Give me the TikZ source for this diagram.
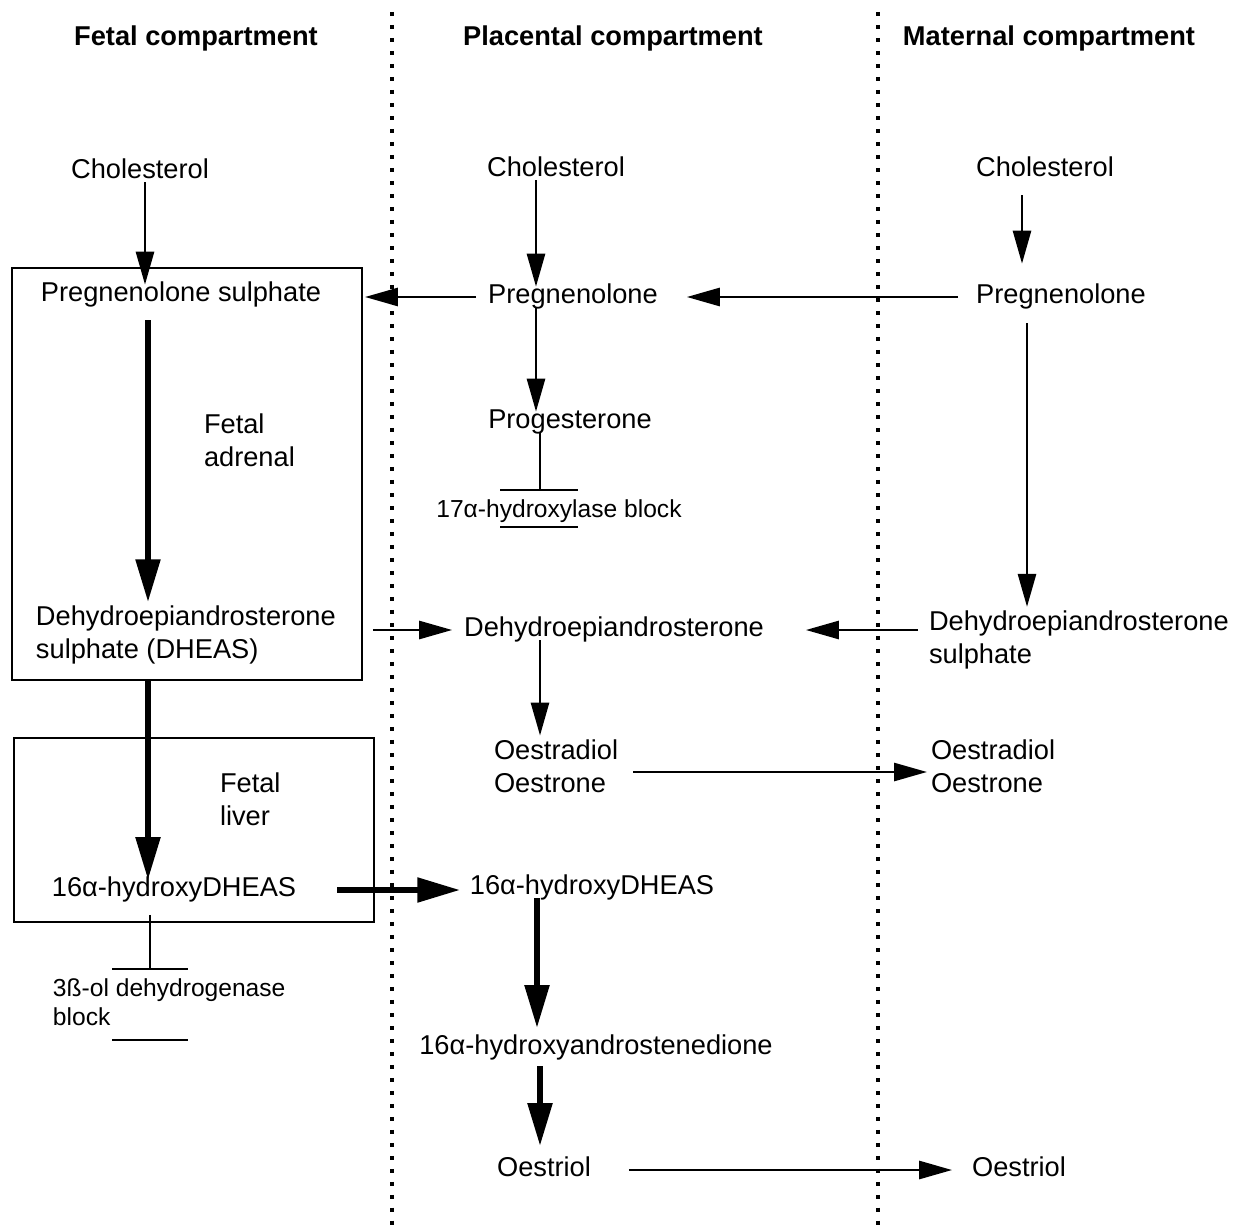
\documentclass[tikz,border=0pt]{standalone}
\usepackage{fontspec}
\setmainfont{Liberation Sans}
\usetikzlibrary{arrows.meta}
\newcommand\fsA{\fontsize{15.5}{18.7}\selectfont}
\newcommand\fsB{\fontsize{14}{16.4}\selectfont}
\begin{document}
\begin{tikzpicture}[x=0.02cm,y=-0.02cm,
 lbl/.style={font=\fsA, inner sep=0pt, outer sep=0.08cm, text height=0.72em, text depth=0pt},
 mlbl/.style={font=\fsA, inner sep=0pt, outer sep=0.08cm, align=left, anchor=west},
 ttl/.style={font=\fsA\bfseries, inner sep=0pt},
 sml/.style={font=\fsB, inner sep=0pt, outer sep=0.08cm, align=left},
 arr/.style={line width=0.055cm, -{Triangle[length=0.66cm,width=0.36cm]}},
 tarr/.style={line width=0.105cm, -{Triangle[length=0.85cm,width=0.48cm]}},
 inh/.style={line width=0.055cm},
 blockbar/.style={line width=0.055cm},
 cbox/.style={draw, line width=0.04cm, inner sep=0pt},
 sepline/.style={line width=0.07cm, dash pattern=on 0.09cm off 0.17cm}
]
\useasboundingbox (0,0) rectangle (1233,1226);

% titles
\node[ttl] (tf) at (196,38) {Fetal compartment};
\node[ttl] (tp) at (613,38) {Placental compartment};
\node[ttl] (tm) at (1049,38) {Maternal compartment};

% compartment separators
\draw[sepline] (392,12) -- (392,1226);
\draw[sepline] (878,12) -- (878,1226);

% boxes
\node[cbox, minimum width=7cm, minimum height=8.24cm] (adrenal) at (187,474) {};
\node[cbox, minimum width=7.2cm, minimum height=3.68cm] (liver) at (194,830) {};

% fetal
\node[lbl] (fchol) at (140,172) {Cholesterol};
\node[lbl] (fpregs) at (181,295) {Pregnenolone sulphate};
\node[mlbl] (fadr) at (200,440) {Fetal\\adrenal};
\node[mlbl] (fdheas) at (32,635) {Dehydroepiandrosterone\\sulphate (DHEAS)};
\node[mlbl] (fliv) at (216,799) {Fetal\\liver};
\node[lbl] (f16) at (174,890) {16α-hydroxyDHEAS};
\node[sml, anchor=west] (f3b) at (49,1002) {3ß-ol dehydrogenase\\block};

% placental
\node[lbl] (pchol) at (556,170) {Cholesterol};
\node[lbl] (ppreg) at (573,297) {Pregnenolone};
\node[lbl] (pprog) at (570,422) {Progesterone};
\node[sml] (p17) at (559,511) {17α-hydroxylase block};
\node[lbl] (pdhea) at (614,630) {Dehydroepiandrosterone};
\node[mlbl] (poest) at (490,766) {Oestradiol\\Oestrone};
\node[lbl] (p16) at (592,888) {16α-hydroxyDHEAS};
\node[lbl] (pandro) at (596,1048) {16α-hydroxyandrostenedione};
\node[lbl] (poestriol) at (544,1170) {Oestriol};

% maternal
\node[lbl] (mchol) at (1045,170) {Cholesterol};
\node[lbl] (mpreg) at (1061,297) {Pregnenolone};
\node[mlbl] (msulph) at (925,640) {Dehydroepiandrosterone\\sulphate};
\node[mlbl] (moest) at (927,766) {Oestradiol\\Oestrone};
\node[lbl] (moestriol) at (1019,1170) {Oestriol};

% fetal connectors
\draw[arr] (fchol.south -| 145,0) -- (fpregs.north -| 145,0);
\draw[tarr, shorten <=0.3cm] (fpregs.south -| 148,0) -- (fdheas.north -| 148,0);
\draw[tarr, shorten <=0.24cm] (fdheas.south -| 148,0) -- (f16.north -| 148,0);
\coordinate (fb) at (150,969);
\coordinate (fu) at (150,1040);
\draw[inh, shorten <=-0.16cm] (liver.south -| fb) -- (fb);
\draw[blockbar] ([xshift=-0.76cm]fb) -- ([xshift=0.76cm]fb);
\draw[blockbar] ([xshift=-0.76cm]fu) -- ([xshift=0.76cm]fu);

% placental connectors
\draw[arr] (pchol.south -| 536,0) -- (ppreg.north -| 536,0);
\draw[arr, shorten <=0.16cm, shorten >=0.04cm] (ppreg.west) -- (ppreg.west -| adrenal.east);
\draw[arr] (ppreg.south -| 536,0) -- (pprog.north -| 536,0);
\coordinate (pb) at (540,490);
\coordinate (pu) at (540,527);
\draw[inh] (pprog.south -| pb) -- (pb);
\draw[blockbar] ([xshift=-0.8cm]pb) -- ([xshift=0.76cm]pb);
\draw[blockbar] ([xshift=-0.8cm]pu) -- ([xshift=0.76cm]pu);
\draw[arr, shorten <=0.28cm, shorten >=0.5cm] (mpreg.west) -- (ppreg.east);
\draw[arr, shorten <=0.2cm, shorten >=0.16cm] (adrenal.east |- pdhea.west) -- (pdhea.west);
\draw[arr, shorten <=0.14cm, shorten >=0.76cm] (msulph.west |- pdhea.east) -- (pdhea.east);
\draw[arr] (pdhea.south -| 540,0) -- (poest.north -| 540,0);
\draw[arr, shorten <=0.22cm] ([yshift=-0.12cm]poest.east) -- ([yshift=-0.12cm]poest.east -| moest.west);
\draw[tarr, shorten <=0.74cm, shorten >=0.12cm] (f16.east) -- (f16.east -| p16.west);
\draw[tarr, shorten >=0.2cm] (p16.south -| 537,0) -- (pandro.north -| 537,0);
\draw[tarr, shorten <=0.16cm, shorten >=0.28cm] (pandro.south -| 540,0) -- (poestriol.north -| 540,0);
\draw[arr, shorten <=0.68cm, shorten >=0.32cm] (poestriol.east) -- (poestriol.east -| moestriol.west);

% maternal connectors
\draw[arr, shorten <=0.3cm, shorten >=0.46cm] (mchol.south -| 1022,0) -- (mpreg.north -| 1022,0);
\draw[arr, shorten <=0.32cm] (mpreg.south -| 1027,0) -- (msulph.north -| 1027,0);
\end{tikzpicture}
\end{document}
